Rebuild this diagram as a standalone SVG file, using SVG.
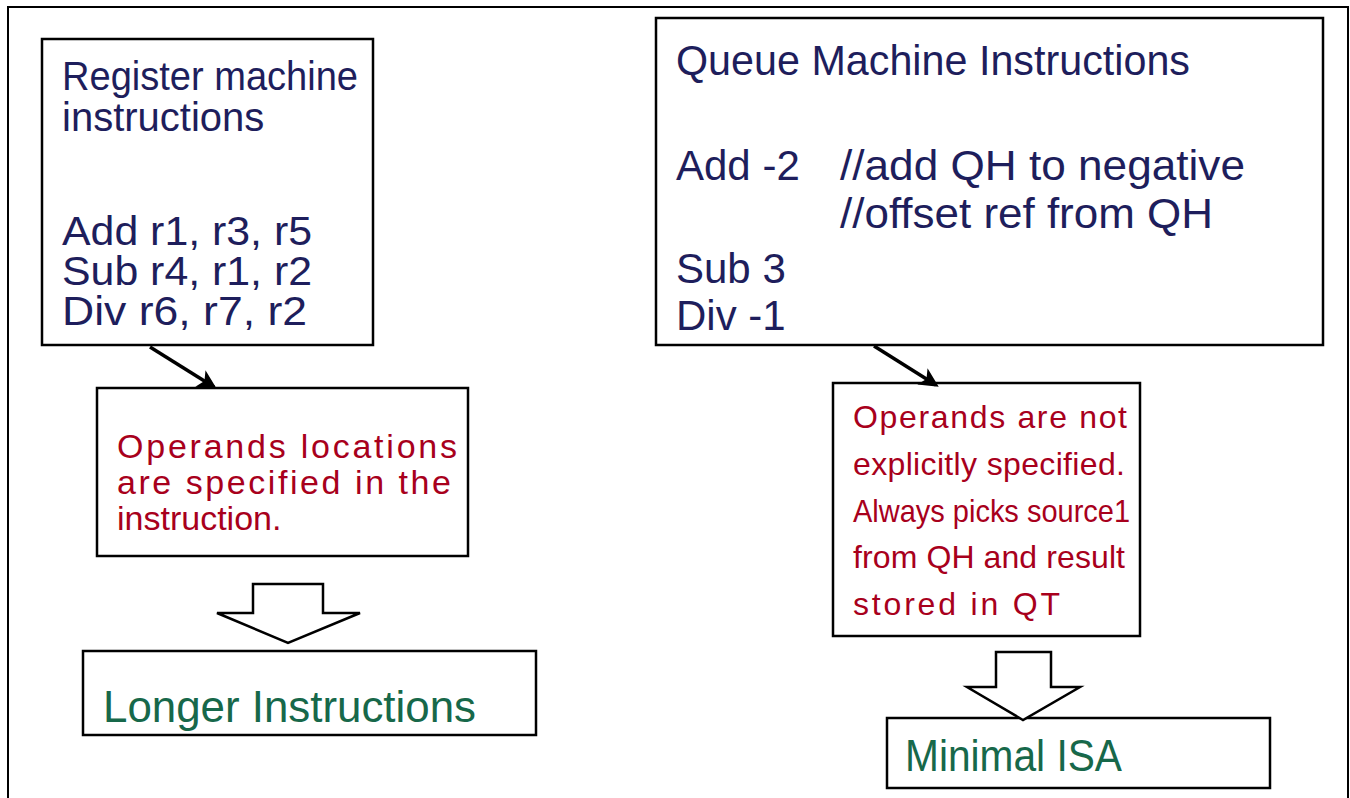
<svg xmlns="http://www.w3.org/2000/svg" width="1350" height="798" viewBox="0 0 1350 798">
  <defs>
    <style>
      .box { fill: #ffffff; stroke: #000000; stroke-width: 2.5; }
      .navy { font-family: "Liberation Sans", Arial, sans-serif; font-size: 40px; fill: #1e1e5c; }
      .navy2 { font-family: "Liberation Sans", Arial, sans-serif; font-size: 42px; fill: #1e1e5c; }
      .red { font-family: "Liberation Sans", Arial, sans-serif; font-size: 32px; fill: #a8001c; }
      .red1 { font-family: "Liberation Sans", Arial, sans-serif; font-size: 34px; fill: #a8001c; }
      .green { font-family: "Liberation Sans", Arial, sans-serif; font-size: 44px; fill: #17684a; }
      .conn { stroke: #000000; stroke-width: 3.5; fill: none; }
      .block { fill: #ffffff; stroke: #000000; stroke-width: 2.5; stroke-linejoin: miter; }
    </style>
    <marker id="ah" viewBox="0 0 12 12" refX="10" refY="6" markerWidth="5.5" markerHeight="5.5" orient="auto" markerUnits="strokeWidth">
      <path d="M0,0 L12,6 L0,12 L3,6 z" fill="#000000"/>
    </marker>
  </defs>
  <rect width="1350" height="798" fill="#ffffff"/>
  <path d="M8,800 V7 H1348 V800" fill="none" stroke="#000000" stroke-width="2"/>

  <g id="register-box">
    <rect class="box" x="42" y="39" width="331" height="306"/>
    <text class="navy" x="62" y="90" textLength="296" lengthAdjust="spacingAndGlyphs">Register machine</text>
    <text class="navy" x="62" y="131">instructions</text>
    <text class="navy" x="62" y="245" textLength="250" lengthAdjust="spacingAndGlyphs">Add r1, r3, r5</text>
    <text class="navy" x="62" y="285" textLength="250" lengthAdjust="spacingAndGlyphs">Sub r4, r1, r2</text>
    <text class="navy" x="62" y="325" textLength="245" lengthAdjust="spacingAndGlyphs">Div r6, r7, r2</text>
  </g>

  <g id="queue-box">
    <rect class="box" x="656" y="18" width="667" height="327"/>
    <text class="navy2" x="676" y="75" textLength="514" lengthAdjust="spacingAndGlyphs">Queue Machine Instructions</text>
    <text class="navy2" x="676" y="180">Add -2</text>
    <text class="navy2" x="840" y="180" textLength="405" lengthAdjust="spacingAndGlyphs">//add QH to negative</text>
    <text class="navy2" x="840" y="228" textLength="373" lengthAdjust="spacingAndGlyphs">//offset ref from QH</text>
    <text class="navy2" x="676" y="283">Sub 3</text>
    <text class="navy2" x="676" y="330">Div -1</text>
  </g>

  <g id="register-operands">
    <rect class="box" x="97" y="388" width="371" height="168"/>
    <text class="red1" x="117" y="458" textLength="340" lengthAdjust="spacing">Operands locations</text>
    <text class="red1" x="117" y="494" textLength="334" lengthAdjust="spacing">are specified in the</text>
    <text class="red1" x="117" y="530">instruction.</text>
  </g>

  <g id="queue-operands">
    <rect class="box" x="833" y="383" width="307" height="253"/>
    <text class="red" x="853" y="428" textLength="274" lengthAdjust="spacing">Operands are not</text>
    <text class="red" x="853" y="475" textLength="272" lengthAdjust="spacing">explicitly specified.</text>
    <text class="red" x="853" y="522" textLength="277" lengthAdjust="spacingAndGlyphs">Always picks source1</text>
    <text class="red" x="853" y="568" textLength="272" lengthAdjust="spacing">from QH and result</text>
    <text class="red" x="853" y="615" textLength="207" lengthAdjust="spacing">stored in QT</text>
  </g>

  <g id="longer-instructions">
    <rect class="box" x="83" y="651" width="453" height="84"/>
    <text class="green" x="103" y="722" textLength="373" lengthAdjust="spacingAndGlyphs">Longer Instructions</text>
  </g>

  <g id="minimal-isa">
    <rect class="box" x="887" y="718" width="383" height="70"/>
    <text class="green" x="905" y="771" textLength="217" lengthAdjust="spacingAndGlyphs">Minimal ISA</text>
  </g>

  <g id="connectors">
    <line class="conn" x1="150" y1="347" x2="214" y2="387" marker-end="url(#ah)"/>
    <line class="conn" x1="874" y1="346" x2="936" y2="385" marker-end="url(#ah)"/>
    <polygon class="block" points="253,584 323,584 323,613 360,613 288,643 217,613 253,613"/>
    <polygon class="block" points="996,652 1051,652 1051,687 1080,687 1023,720 967,687 996,687"/>
  </g>
</svg>
